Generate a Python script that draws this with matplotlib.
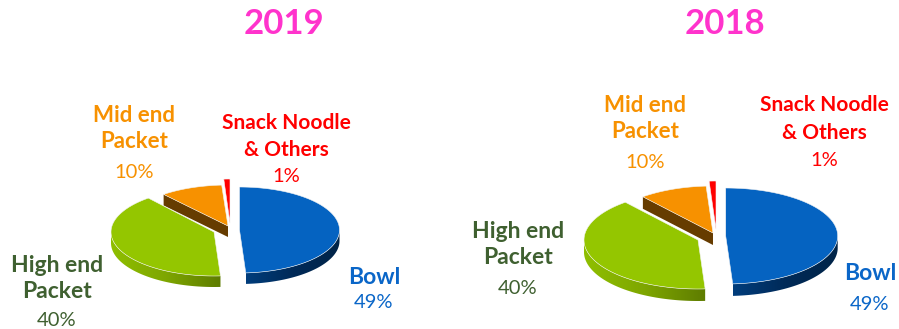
import numpy as np
from matplotlib import pyplot as plt
from matplotlib.colors import LinearSegmentedColormap
from matplotlib.patches import Polygon

plt.rcParams['font.family'] = ['Lato', 'DejaVu Sans']

years = ['2019', '2018']
segments = ['Bowl', 'High end\nPacket', 'Mid end\nPacket', 'Snack Noodle\n& Others']
shares_2019 = [49, 40, 10, 1]
shares_2018 = [49, 40, 10, 1]

top_colors = ['#0563c1', '#94c600', '#f79100', '#ff0000']
side_colors = [['#003d7c', '#002a58', '#002448'],
               ['#8fbf00', '#7ea600', '#5e7c00'],
               ['#663c00', '#663c00', '#663c00'],
               ['#a00000', '#a00000', '#a00000']]
text_colors = ['#0a66c8', '#3f6030', '#f79100', '#ff0000']
name_sizes = [16.5, 16.5, 16, 15]

START_ANGLE = 90

# wedge centre, radii and depth for each segment, in pixels
pie_2019 = {'centers': [(239.5, 230), (214, 232), (228, 226), (230, 223)],
            'rx': [100, 103, 101, 99], 'ry': [43, 44, 41, 44], 'depth': 11}
pie_2018 = {'centers': [(725.7, 236), (698, 240), (713, 233), (716, 229)],
            'rx': [112, 114, 110, 110], 'ry': [48, 49, 47, 48], 'depth': 12}

# text anchors per segment: x, y of name lines, y of the percentage
labels_2019 = [(374, [278], 303), (57, [266, 291], 321),
               (134, [116, 142], 173), (286, [123, 150], 177)]
labels_2018 = [(870, [274], 304), (518, [232, 258], 289),
               (645, [106, 132], 162), (824, [105, 133], 160)]


def arc(center, rx, ry, a0, a1):
    t = np.radians(np.linspace(a0, a1, 120))
    return np.column_stack([center[0] + rx * np.cos(t), center[1] - ry * np.sin(t)])


def fill_gradient(ax, points, colors):
    # horizontal gradient clipped to the polygon
    cmap = LinearSegmentedColormap.from_list('side', colors)
    patch = Polygon(points, closed=True, facecolor='none', edgecolor='none')
    ax.add_patch(patch)
    x0, x1 = points[:, 0].min(), points[:, 0].max()
    y0, y1 = points[:, 1].min(), points[:, 1].max()
    grad = np.linspace(0, 1, 200).reshape(1, -1)
    im = ax.imshow(grad, cmap=cmap, extent=(x0, x1, y1, y0), aspect='auto', zorder=1)
    im.set_clip_path(patch)


def draw_pie(ax, shares, geo):
    total = sum(shares)
    a0 = START_ANGLE
    depth = geo['depth']
    for i, share in enumerate(shares):
        a1 = a0 - 360 * share / total
        c, rx, ry = geo['centers'][i], geo['rx'][i], geo['ry'][i]

        # outer rim, only the part that faces down
        high = min(a0, 0)
        low = max(a1, -180)
        if high > low:
            rim = arc(c, rx, ry, high, low)
            rim_down = rim[::-1] + [0, depth]
            fill_gradient(ax, np.vstack([rim, rim_down]), side_colors[i])

        # cut face on the mid end slice
        if segments[i].startswith('Mid'):
            edge = arc(c, rx, ry, a0, a0)[0]
            wall = np.array([edge, c, (c[0], c[1] + depth), edge + [0, depth]])
            ax.add_patch(Polygon(wall, closed=True, facecolor=side_colors[i][0],
                                 edgecolor='none', zorder=1))

        top = np.vstack([[c], arc(c, rx, ry, a0, a1)])
        ax.add_patch(Polygon(top, closed=True, facecolor=top_colors[i],
                             edgecolor='#f4f4f4', linewidth=0.4, zorder=2))
        a0 = a1


def draw_labels(ax, shares, anchors):
    for i, (x, ys, y_pct) in enumerate(anchors):
        for line, y in zip(segments[i].split('\n'), ys):
            ax.text(x, y, line, color=text_colors[i], fontsize=name_sizes[i],
                    fontweight='bold', ha='center', va='center')
        ax.text(x, y_pct, str(shares[i]) + '%', color=text_colors[i], fontsize=14.5,
                ha='center', va='center')


fig = plt.figure(figsize=(8.99, 3.29), dpi=100)
ax = fig.add_axes([0, 0, 1, 1])

draw_pie(ax, shares_2019, pie_2019)
draw_pie(ax, shares_2018, pie_2018)
draw_labels(ax, shares_2019, labels_2019)
draw_labels(ax, shares_2018, labels_2018)

ax.text(284, 24, years[0], color='#ff33cc', fontsize=25, fontweight='bold', ha='center', va='center')
ax.text(725, 24, years[1], color='#ff33cc', fontsize=25, fontweight='bold', ha='center', va='center')

ax.set_xlim(0, 899)
ax.set_ylim(329, 0)
ax.axis('off')

fig.savefig('out.png', dpi=100)
